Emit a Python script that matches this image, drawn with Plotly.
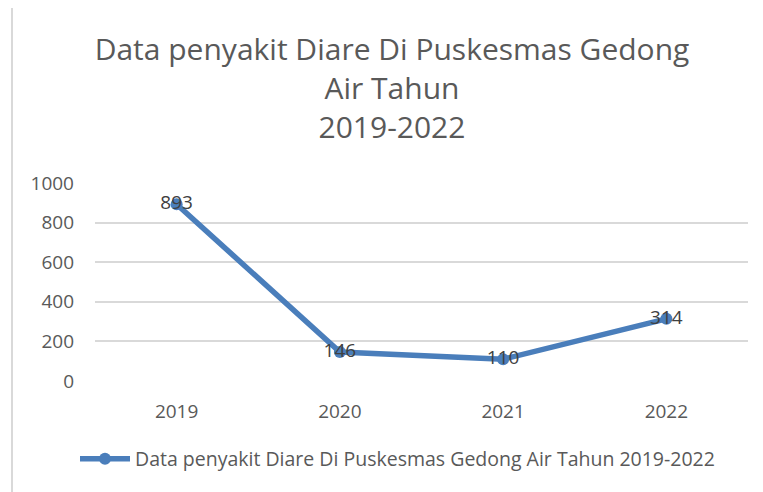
import plotly.graph_objects as go

years = ["2019", "2020", "2021", "2022"]
cases = [893, 146, 110, 314]
series_name = "Data penyakit Diare Di Puskesmas Gedong Air Tahun 2019-2022"
title_text = "Data penyakit Diare Di Puskesmas Gedong<br>Air Tahun<br>2019-2022"

# page body has an 8px margin, so the figure is drawn 8px in from the corner
OFF = 8
W, H = 763 - OFF, 492 - OFF
L, R, T, B = 95 - OFF, 15, 183 - OFF, 111

FONT = "Open Sans"
GRAY = "#595959"
BLUE = "#4a7ebb"

fig = go.Figure()
fig.add_trace(go.Scatter(
    x=years, y=cases, name=series_name,
    mode="lines+markers+text",
    line=dict(color=BLUE, width=5.5),
    marker=dict(color=BLUE, size=12),
    text=[str(v) for v in cases],
    textposition="middle center",
    textfont=dict(family=FONT, size=19, color="#404040"),
    cliponaxis=False,
))

def px_x(px):
    return (px - OFF - L) / (W - L - R)

def px_y(py):
    return (H - B - (py - OFF)) / (H - T - B)

fig.update_layout(
    width=W, height=H,
    margin=dict(l=L, r=R, t=T, b=B, autoexpand=False),
    paper_bgcolor="white", plot_bgcolor="white",
    font=dict(family=FONT, color=GRAY),
    title=dict(
        text=title_text,
        x=(392 - OFF) / W, xanchor="center",
        y=1 - 52 / H, yanchor="top",
        font=dict(family=FONT, size=30, color=GRAY),
        automargin=False,
    ),
    xaxis=dict(
        type="category",
        range=[-0.5, 3.5],
        showgrid=False, zeroline=False, showline=False,
        ticks="", tickfont=dict(family=FONT, size=19, color=GRAY),
        ticklabelstandoff=17, automargin=False,
    ),
    yaxis=dict(
        range=[0, 1000], dtick=200,
        showgrid=True, gridcolor="#d9d9d9", gridwidth=1.5,
        zeroline=False, showline=False, ticks="",
        tickfont=dict(family=FONT, size=19, color=GRAY),
        ticklabelstandoff=20, automargin=False,
    ),
    showlegend=True,
    legend=dict(
        orientation="h", x=px_x(75), xanchor="left",
        y=px_y(459), yanchor="middle",
        font=dict(family=FONT, size=19.5, color=GRAY),
        itemwidth=50,
    ),
    shapes=[
        dict(type="line", xref="paper", yref="paper",
             x0=px_x(12), x1=px_x(763), y0=px_y(7), y1=px_y(7),
             line=dict(color="#d9d9d9", width=2)),
        dict(type="line", xref="paper", yref="paper",
             x0=px_x(12), x1=px_x(12), y0=px_y(7), y1=px_y(492),
             line=dict(color="#d9d9d9", width=2)),
    ],
)

fig.write_html("out.html")
